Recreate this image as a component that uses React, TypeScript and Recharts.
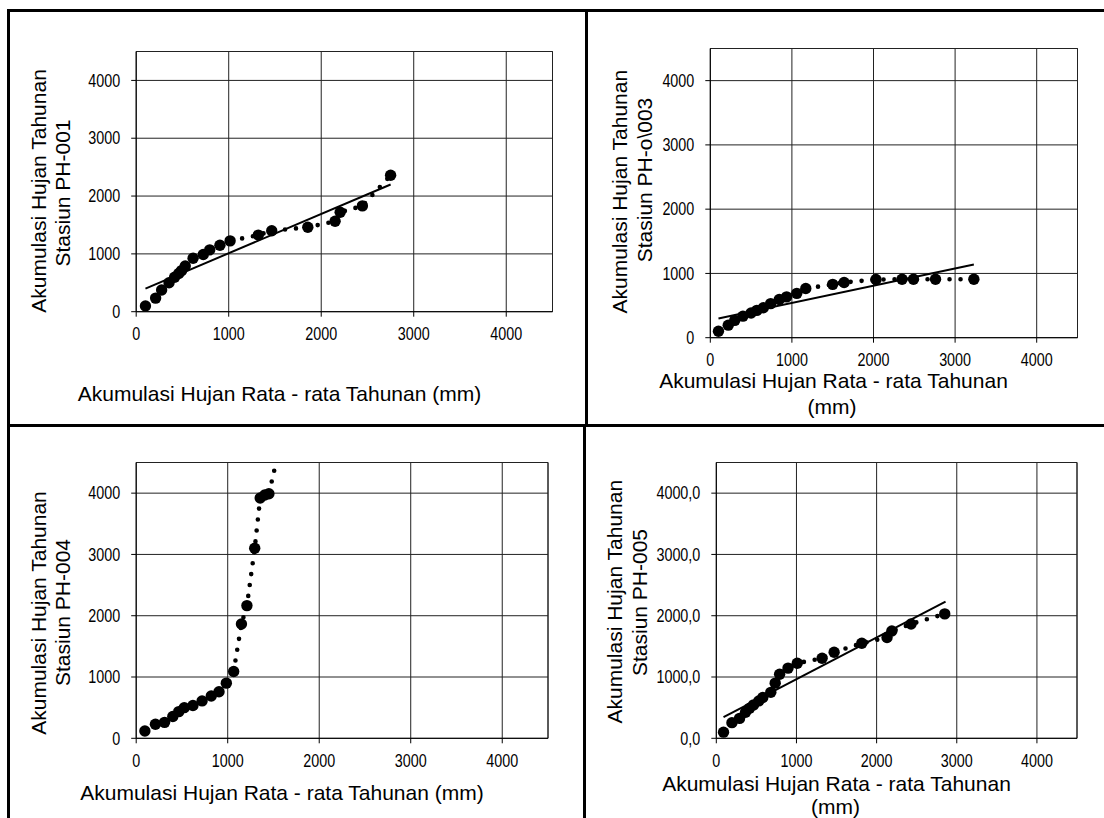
import React from 'react';
import { ComposedChart, Line, XAxis, YAxis, CartesianGrid, ReferenceLine } from 'recharts';

// ---------- shared axis data ----------
const xTicks = [0, 1000, 2000, 3000, 4000];
const yTicks = [0, 1000, 2000, 3000, 4000];
const axisMax = 4500;

const xLabelText = 'Akumulasi Hujan Rata - rata Tahunan';
const xLabelUnit = '(mm)';
const yLabelText = 'Akumulasi Hujan Tahunan';

// ---------- PH-001 ----------
const ph001Name = 'Stasiun PH-001';
const ph001X = [100, 210, 275, 355, 415, 460, 490, 530, 615, 725, 795, 905, 1015, 1320, 1465, 1855, 2150, 2205, 2445, 2750];
const ph001Y = [100, 235, 375, 500, 595, 660, 710, 790, 925, 990, 1070, 1150, 1225, 1325, 1400, 1460, 1565, 1720, 1830, 2360];
const ph001TrendX = [100, 2750];
const ph001TrendY = [400, 2200];

// ---------- PH-003 ----------
const ph003Name = 'Stasiun PH-o\\003';
const ph003X = [100, 220, 300, 400, 500, 570, 650, 740, 845, 935, 1060, 1170, 1500, 1640, 2030, 2350, 2490, 2760, 3230];
const ph003Y = [100, 195, 270, 335, 385, 425, 465, 530, 595, 635, 690, 765, 830, 860, 905, 910, 910, 910, 910];
const ph003TrendX = [100, 3230];
const ph003TrendY = [300, 1140];

// ---------- PH-004 ----------
const ph004Name = 'Stasiun PH-004';
const ph004X = [95, 210, 310, 400, 465, 525, 620, 720, 820, 905, 985, 1065, 1150, 1210, 1295, 1355, 1405, 1450, 1575];
const ph004Y = [120, 230, 260, 355, 435, 500, 535, 610, 690, 760, 900, 1090, 1865, 2165, 3100, 3920, 3970, 3990, 4800];

// ---------- PH-005 ----------
const ph005Name = 'Stasiun PH-005';
const ph005X = [90, 195, 290, 365, 415, 465, 530, 580, 680, 735, 790, 895, 1010, 1320, 1470, 1815, 2130, 2190, 2430, 2850];
const ph005Y = [100, 255, 325, 425, 490, 545, 610, 665, 750, 900, 1045, 1145, 1225, 1305, 1405, 1550, 1645, 1750, 1865, 2030];
const ph005TrendX = [90, 2860];
const ph005TrendY = [345, 2230];

const FONT = "'Liberation Sans', Arial, Helvetica, sans-serif";

const intFmt = (v: number) => String(v);
const commaFmt = (v: number) => v.toFixed(1).replace('.', ',');

type Box = { left: number; top: number; w: number; h: number };
type Plot = { x0: number; x1: number; y0: number; y1: number };
type YLine = { text: string; cx: number; cy: number };
type XLine = { text: string; cx: number; base: number };

const NarrowTick = (props: any) => {
  const { x, y, payload, textAnchor, kind, fmt } = props;
  return (
    <g transform={`translate(${x},${y})`}>
      <text
        transform="scale(0.82,1)"
        textAnchor={textAnchor}
        dy={kind === 'x' ? '0.71em' : '0.355em'}
        fontSize={17.5}
        fontFamily={FONT}
        fill="#000"
      >
        {fmt(payload.value)}
      </text>
    </g>
  );
};

function Panel(props: {
  box: Box;
  plot: Plot;
  xs: number[];
  ys: number[];
  tx?: number[];
  ty?: number[];
  fmtY: (v: number) => string;
  yLines: YLine[];
  xLines: XLine[];
}) {
  const { box, plot, xs, ys, tx, ty, fmtY, yLines, xLines } = props;
  const YW = 60;
  const XH = 40;
  const margin = {
    left: plot.x0 - box.left - YW,
    right: box.left + box.w - plot.x1,
    top: plot.y0 - box.top,
    bottom: box.top + box.h - plot.y1 - XH,
  };
  const series = xs.map((x, i) => ({ x, y: ys[i] }));
  const trend = tx && ty ? tx.map((x, i) => ({ x, y: ty[i] })) : null;

  const renderYLabel = () => (
    <g>
      {yLines.map((l, i) => {
        const cx = l.cx - box.left;
        const cy = l.cy - box.top;
        return (
          <text
            key={i}
            x={cx}
            y={cy}
            transform={`rotate(-90 ${cx} ${cy})`}
            textAnchor="middle"
            dy="0.36em"
            fontSize={21}
            fontFamily={FONT}
            fill="#000"
          >
            {l.text}
          </text>
        );
      })}
    </g>
  );

  const renderXLabel = () => (
    <g>
      {xLines.map((l, i) => (
        <text
          key={i}
          x={l.cx - box.left}
          y={l.base - box.top}
          textAnchor="middle"
          fontSize={21}
          fontFamily={FONT}
          fill="#000"
        >
          {l.text}
        </text>
      ))}
    </g>
  );

  return (
    <div style={{ position: 'absolute', left: box.left, top: box.top, width: box.w, height: box.h }}>
      <ComposedChart width={box.w} height={box.h} margin={margin}>
        <CartesianGrid stroke="#222" strokeWidth={1} />
        <XAxis
          type="number"
          dataKey="x"
          domain={[0, axisMax]}
          ticks={xTicks}
          allowDataOverflow
          height={XH}
          axisLine={{ stroke: '#000', strokeWidth: 1 }}
          tickLine={{ stroke: '#000', strokeWidth: 1 }}
          tickSize={5}
          tickMargin={11}
          tick={(p: any) => <NarrowTick {...p} kind="x" fmt={intFmt} />}
          label={renderXLabel}
        />
        <YAxis
          type="number"
          dataKey="y"
          domain={[0, axisMax]}
          ticks={yTicks}
          allowDataOverflow
          width={YW}
          axisLine={{ stroke: '#000', strokeWidth: 1 }}
          tickLine={{ stroke: '#000', strokeWidth: 1 }}
          tickSize={5}
          tickMargin={11}
          tick={(p: any) => <NarrowTick {...p} kind="y" fmt={fmtY} />}
          label={renderYLabel}
        />
        <ReferenceLine y={axisMax} stroke="#222" strokeWidth={1} />
        <ReferenceLine x={axisMax} stroke="#222" strokeWidth={1} />
        <Line
          data={series}
          dataKey="y"
          type="linear"
          stroke="#000"
          strokeWidth={4.6}
          strokeDasharray="0 11"
          strokeLinecap="round"
          dot={{ r: 5.7, fill: '#000', stroke: 'none', strokeWidth: 0, strokeDasharray: 'none', clipDot: false }}
          activeDot={false}
          isAnimationActive={false}
        />
        {trend && (
          <Line
            data={trend}
            dataKey="y"
            type="linear"
            stroke="#000"
            strokeWidth={2}
            dot={false}
            activeDot={false}
            isAnimationActive={false}
          />
        )}
      </ComposedChart>
    </div>
  );
}

const lineStyle = (left: number, top: number, width: number, height: number): React.CSSProperties => ({
  position: 'absolute',
  left,
  top,
  width,
  height,
  background: '#000',
});

export default function App() {
  return (
    <div style={{ position: 'absolute', left: 0, top: 0, width: 1104, height: 818, background: '#fff', overflow: 'hidden' }}>
      <Panel
        box={{ left: 11, top: 13, w: 573, h: 410 }}
        plot={{ x0: 136.2, x1: 552.5, y0: 51.5, y1: 311.7 }}
        xs={ph001X}
        ys={ph001Y}
        tx={ph001TrendX}
        ty={ph001TrendY}
        fmtY={intFmt}
        yLines={[
          { text: yLabelText, cx: 38.5, cy: 191 },
          { text: ph001Name, cx: 62, cy: 193 },
        ]}
        xLines={[{ text: `${xLabelText} ${xLabelUnit}`, cx: 279.5, base: 401 }]}
      />
      <Panel
        box={{ left: 589, top: 13, w: 515, h: 410 }}
        plot={{ x0: 710.3, x1: 1077.5, y0: 48.5, y1: 337.7 }}
        xs={ph003X}
        ys={ph003Y}
        tx={ph003TrendX}
        ty={ph003TrendY}
        fmtY={intFmt}
        yLines={[
          { text: yLabelText, cx: 619.3, cy: 191.7 },
          { text: ph003Name, cx: 644.3, cy: 180 },
        ]}
        xLines={[
          { text: xLabelText, cx: 833.5, base: 388 },
          { text: xLabelUnit, cx: 832, base: 413.5 },
        ]}
      />
      <Panel
        box={{ left: 11, top: 428, w: 571, h: 390 }}
        plot={{ x0: 136.2, x1: 548, y0: 462.5, y1: 738.3 }}
        xs={ph004X}
        ys={ph004Y}
        fmtY={intFmt}
        yLines={[
          { text: yLabelText, cx: 38.8, cy: 613 },
          { text: ph004Name, cx: 62, cy: 612.5 },
        ]}
        xLines={[{ text: `${xLabelText} ${xLabelUnit}`, cx: 282, base: 800 }]}
      />
      <Panel
        box={{ left: 587, top: 428, w: 517, h: 390 }}
        plot={{ x0: 716.3, x1: 1077, y0: 462.5, y1: 738.3 }}
        xs={ph005X}
        ys={ph005Y}
        tx={ph005TrendX}
        ty={ph005TrendY}
        fmtY={commaFmt}
        yLines={[
          { text: yLabelText, cx: 614.7, cy: 601.7 },
          { text: ph005Name, cx: 639.7, cy: 602.5 },
        ]}
        xLines={[
          { text: xLabelText, cx: 836.5, base: 791 },
          { text: xLabelUnit, cx: 835.5, base: 814 },
        ]}
      />
      {/* frame lines */}
      <div style={lineStyle(7, 9, 1097, 3)} />
      <div style={lineStyle(7, 9, 3, 809)} />
      <div style={lineStyle(7, 424, 1097, 3)} />
      <div style={lineStyle(585, 9, 3, 418)} />
      <div style={lineStyle(583, 424, 3, 394)} />
    </div>
  );
}
